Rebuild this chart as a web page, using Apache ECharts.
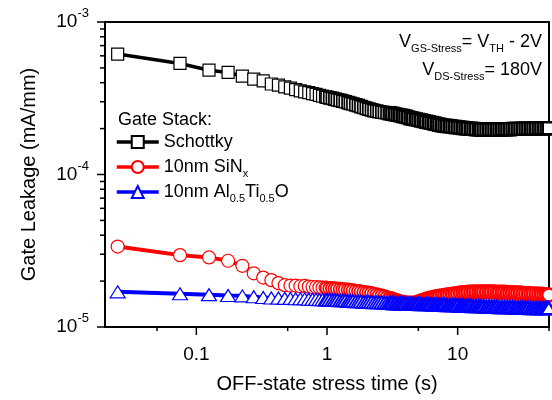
<!DOCTYPE html>
<html>
<head>
<meta charset="utf-8">
<script src="https://cdn.jsdelivr.net/npm/echarts@6/dist/echarts.min.js"></script>
<style>html,body{margin:0;padding:0;background:#fff}#chart{width:552px;height:400px}</style>
</head>
<body>
<div id="chart"></div>
<script>
// stress time (s), shared by all three curves
const times = [
  0.025, 0.075, 0.125, 0.175, 0.225, 0.275, 0.325, 0.375, 0.425, 0.475,
  0.525, 0.575, 0.625, 0.675, 0.725, 0.775, 0.825, 0.875, 0.925, 0.975,
  1.0, 1.05, 1.1, 1.15, 1.2, 1.26, 1.32, 1.38, 1.45, 1.51,
  1.58, 1.66, 1.74, 1.82, 1.91, 2.0, 2.09, 2.19, 2.29, 2.4,
  2.51, 2.63, 2.75, 2.88, 3.02, 3.16, 3.31, 3.47, 3.63, 3.8,
  3.98, 4.17, 4.37, 4.57, 4.79, 5.01, 5.25, 5.5, 5.75, 6.03,
  6.31, 6.61, 6.92, 7.24, 7.59, 7.94, 8.32, 8.71, 9.12, 9.55,
  10, 10.5, 11, 11.5, 12, 12.6, 13.2, 13.8, 14.5, 15.1,
  15.8, 16.6, 17.4, 18.2, 19.1, 20, 20.9, 21.9, 22.9, 24,
  25.1, 26.3, 27.5, 28.8, 30.2, 31.6, 33.1, 34.7, 36.3, 38,
  39.8, 41.7, 43.7, 45.7, 47.9, 49.8
]

// gate leakage (mA/mm)
const schottky = [
  6.16e-4, 5.35e-4, 4.83e-4, 4.67e-4, 4.41e-4, 4.22e-4, 4.11e-4, 3.92e-4, 3.85e-4, 3.75e-4,
  3.68e-4, 3.60e-4, 3.53e-4, 3.48e-4, 3.44e-4, 3.39e-4, 3.35e-4, 3.30e-4, 3.27e-4, 3.23e-4,
  3.21e-4, 3.18e-4, 3.16e-4, 3.12e-4, 3.09e-4, 3.06e-4, 3.03e-4, 3.00e-4, 2.96e-4, 2.93e-4,
  2.90e-4, 2.86e-4, 2.83e-4, 2.79e-4, 2.75e-4, 2.71e-4, 2.68e-4, 2.65e-4, 2.62e-4, 2.60e-4,
  2.58e-4, 2.56e-4, 2.55e-4, 2.53e-4, 2.52e-4, 2.50e-4, 2.48e-4, 2.46e-4, 2.44e-4, 2.42e-4,
  2.40e-4, 2.37e-4, 2.34e-4, 2.32e-4, 2.30e-4, 2.28e-4, 2.26e-4, 2.24e-4, 2.22e-4, 2.20e-4,
  2.18e-4, 2.16e-4, 2.14e-4, 2.12e-4, 2.10e-4, 2.09e-4, 2.08e-4, 2.07e-4, 2.06e-4, 2.05e-4,
  2.04e-4, 2.03e-4, 2.02e-4, 2.01e-4, 2.00e-4, 2.00e-4, 1.99e-4, 1.98e-4, 1.98e-4, 1.97e-4,
  1.97e-4, 1.97e-4, 1.97e-4, 1.97e-4, 1.97e-4, 1.97e-4, 1.97e-4, 1.98e-4, 1.98e-4, 1.98e-4,
  1.98e-4, 1.99e-4, 1.99e-4, 1.99e-4, 1.99e-4, 2.00e-4, 2.00e-4, 2.00e-4, 2.00e-4, 2.00e-4,
  2.01e-4, 2.01e-4, 2.01e-4, 2.01e-4, 2.01e-4, 2.01e-4
]

const sinx = [
  3.37e-5, 2.96e-5, 2.86e-5, 2.72e-5, 2.52e-5, 2.25e-5, 2.11e-5, 2.03e-5, 1.94e-5, 1.88e-5,
  1.87e-5, 1.87e-5, 1.85e-5, 1.86e-5, 1.84e-5, 1.83e-5, 1.83e-5, 1.82e-5, 1.81e-5, 1.81e-5,
  1.80e-5, 1.79e-5, 1.79e-5, 1.78e-5, 1.78e-5, 1.77e-5, 1.76e-5, 1.76e-5, 1.75e-5, 1.74e-5,
  1.73e-5, 1.72e-5, 1.71e-5, 1.70e-5, 1.69e-5, 1.68e-5, 1.67e-5, 1.66e-5, 1.64e-5, 1.63e-5,
  1.61e-5, 1.60e-5, 1.58e-5, 1.56e-5, 1.54e-5, 1.52e-5, 1.50e-5, 1.48e-5, 1.46e-5, 1.45e-5,
  1.44e-5, 1.43e-5, 1.43e-5, 1.43e-5, 1.44e-5, 1.46e-5, 1.48e-5, 1.50e-5, 1.52e-5, 1.54e-5,
  1.55e-5, 1.57e-5, 1.58e-5, 1.59e-5, 1.60e-5, 1.61e-5, 1.62e-5, 1.63e-5, 1.64e-5, 1.65e-5,
  1.66e-5, 1.67e-5, 1.68e-5, 1.68e-5, 1.69e-5, 1.69e-5, 1.70e-5, 1.70e-5, 1.70e-5, 1.70e-5,
  1.70e-5, 1.70e-5, 1.70e-5, 1.70e-5, 1.70e-5, 1.69e-5, 1.69e-5, 1.69e-5, 1.69e-5, 1.68e-5,
  1.68e-5, 1.68e-5, 1.67e-5, 1.67e-5, 1.67e-5, 1.66e-5, 1.66e-5, 1.66e-5, 1.65e-5, 1.65e-5,
  1.65e-5, 1.64e-5, 1.64e-5, 1.63e-5, 1.63e-5, 1.62e-5
]

const altio = [
  1.70e-5, 1.65e-5, 1.63e-5, 1.61e-5, 1.60e-5, 1.58e-5, 1.56e-5, 1.55e-5, 1.55e-5, 1.54e-5,
  1.54e-5, 1.53e-5, 1.53e-5, 1.53e-5, 1.52e-5, 1.52e-5, 1.52e-5, 1.51e-5, 1.51e-5, 1.51e-5,
  1.51e-5, 1.51e-5, 1.50e-5, 1.50e-5, 1.50e-5, 1.49e-5, 1.49e-5, 1.49e-5, 1.48e-5, 1.48e-5,
  1.48e-5, 1.47e-5, 1.47e-5, 1.47e-5, 1.46e-5, 1.46e-5, 1.46e-5, 1.46e-5, 1.45e-5, 1.45e-5,
  1.45e-5, 1.45e-5, 1.44e-5, 1.44e-5, 1.44e-5, 1.44e-5, 1.43e-5, 1.43e-5, 1.43e-5, 1.43e-5,
  1.43e-5, 1.42e-5, 1.42e-5, 1.42e-5, 1.42e-5, 1.42e-5, 1.41e-5, 1.41e-5, 1.41e-5, 1.41e-5,
  1.41e-5, 1.40e-5, 1.40e-5, 1.40e-5, 1.40e-5, 1.40e-5, 1.39e-5, 1.39e-5, 1.39e-5, 1.39e-5,
  1.39e-5, 1.38e-5, 1.38e-5, 1.38e-5, 1.38e-5, 1.38e-5, 1.37e-5, 1.37e-5, 1.37e-5, 1.37e-5,
  1.37e-5, 1.36e-5, 1.36e-5, 1.36e-5, 1.36e-5, 1.36e-5, 1.35e-5, 1.35e-5, 1.35e-5, 1.35e-5,
  1.35e-5, 1.35e-5, 1.34e-5, 1.34e-5, 1.34e-5, 1.34e-5, 1.34e-5, 1.34e-5, 1.33e-5, 1.33e-5,
  1.33e-5, 1.33e-5, 1.33e-5, 1.33e-5, 1.33e-5, 1.33e-5
]

const seriesNames = ['Schottky', '10nm SiNx', '10nm Al0.5Ti0.5O']
const legendLabels = ['Schottky', '10nm SiN{sub|x}', '10nm Al{sub|0.5}Ti{sub|0.5}O']

// axis ticks
const xMajorTicks = [0.1, 1, 10]
const xMinorTicks = [0.05, 0.5, 5, 50]
const yMajorTicks = [1e-5, 1e-4, 1e-3]
const yMinorTicks = [2e-5, 3e-5, 4e-5, 5e-5, 6e-5, 7e-5, 8e-5, 9e-5,
  2e-4, 3e-4, 4e-4, 5e-4, 6e-4, 7e-4, 8e-4, 9e-4]

const X_MIN = 0.02, X_MAX = 50, Y_MIN = 1e-5, Y_MAX = 1e-3
const FONT = 'Liberation Sans, Arial, sans-serif'

const chart = echarts.init(document.getElementById('chart'))

// markers pile up on the right, so their outlines get heavier there (like the original plot)
function pairs(ys) {
  return times.map((t, i) => ({
    value: [t, ys[i]],
    itemStyle: { borderWidth: t < 1 ? 1.2 : t < 3 ? 1.7 : 2.4 }
  }))
}

function tickSeries(values, axis, len) {
  return {
    type: 'custom',
    silent: true,
    clip: false,
    z: 5,
    data: values.map(v => axis === 'x' ? [v, Y_MIN] : [X_MIN, v]),
    renderItem: function (params, api) {
      const p = api.coord([api.value(0), api.value(1)])
      const q = axis === 'x' ? [p[0], p[1] + len] : [p[0] - len, p[1]]
      return {
        type: 'line',
        shape: { x1: p[0], y1: p[1], x2: q[0], y2: q[1] },
        style: { stroke: '#000', lineWidth: 1.5 }
      }
    }
  }
}

function lineSeries(name, ys, color, symbol, size, width) {
  return {
    name: name,
    type: 'line',
    data: pairs(ys),
    symbol: symbol,
    symbolSize: size,
    showAllSymbol: true,
    lineStyle: { color: color, width: width },
    itemStyle: { color: '#fff', borderColor: color, borderWidth: 1.2 },
    emphasis: { disabled: true }
  }
}

const subStyle = { fontFamily: FONT, fontSize: 11, lineHeight: 10, verticalAlign: 'bottom', color: '#000' }

let option = {
  animation: false,
  grid: { left: 105, right: 3, top: 22, bottom: 73, show: true, borderColor: '#000', borderWidth: 2, outerBoundsMode: 'none' },
  title: {
    text: 'Gate Stack:',
    left: 118, top: 111, padding: 0,
    textStyle: { fontFamily: FONT, fontSize: 18, fontWeight: 'normal', color: '#000' }
  },
  legend: {
    data: seriesNames,
    orient: 'vertical',
    left: 115, top: 130,
    padding: 0,
    itemGap: 1,
    itemWidth: 42,
    itemHeight: 15,
    lineStyle: { width: 3.5 },
    formatter: name => legendLabels[seriesNames.indexOf(name)],
    textStyle: {
      fontFamily: FONT, fontSize: 18, lineHeight: 24, color: '#000',
      rich: { sub: subStyle }
    }
  },
  xAxis: {
    type: 'log',
    logBase: 10,
    min: X_MIN,
    max: X_MAX,
    name: 'OFF-state stress time (s)',
    nameLocation: 'middle',
    nameGap: 47,
    nameTextStyle: { fontFamily: FONT, fontSize: 20, color: '#000' },
    axisLine: { lineStyle: { color: '#000', width: 2 } },
    axisTick: { show: false },
    splitLine: { show: false },
    axisLabel: {
      showMinLabel: false, showMaxLabel: false,
      margin: 18,
      fontFamily: FONT, fontSize: 19, color: '#000'
    }
  },
  yAxis: {
    type: 'log',
    logBase: 10,
    min: Y_MIN,
    max: Y_MAX,
    name: 'Gate Leakage (mA/mm)',
    nameLocation: 'middle',
    nameGap: 66,
    nameTextStyle: { fontFamily: FONT, fontSize: 20, color: '#000' },
    axisLine: { lineStyle: { color: '#000', width: 2 } },
    axisTick: { show: false },
    splitLine: { show: false },
    axisLabel: {
      margin: 16,
      formatter: v => '{b|10}{sup|' + Math.round(Math.log10(v)) + '}',
      rich: {
        b: { fontFamily: FONT, fontSize: 19, lineHeight: 30, color: '#000' },
        sup: { fontFamily: FONT, fontSize: 13, lineHeight: 12, verticalAlign: 'top', color: '#000' }
      }
    }
  },
  graphic: [
    {
      type: 'text', right: 10, top: 33,
      style: {
        text: '{m|V}{s|GS-Stress}{m|= V}{s|TH}{m| - 2V}',
        rich: { m: { fontFamily: FONT, fontSize: 18, lineHeight: 24, fill: '#000' }, s: Object.assign({}, subStyle, { fill: '#000' }) }
      }
    },
    {
      type: 'text', right: 10, top: 61,
      style: {
        text: '{m|V}{s|DS-Stress}{m|= 180V}',
        rich: { m: { fontFamily: FONT, fontSize: 18, lineHeight: 24, fill: '#000' }, s: Object.assign({}, subStyle, { fill: '#000' }) }
      }
    }
  ],
  series: [
    lineSeries(seriesNames[0], schottky, '#000', 'rect', 12, 3.5),
    lineSeries(seriesNames[1], sinx, '#ff0000', 'circle', 13, 4),
    lineSeries(seriesNames[2], altio, '#0000ff', 'triangle', [15, 12], 4),
    tickSeries(xMajorTicks, 'x', 8),
    tickSeries(xMinorTicks, 'x', 4),
    tickSeries(yMajorTicks, 'y', 8),
    tickSeries(yMinorTicks, 'y', 5)
  ]
}

chart.setOption(option)
</script>
</body>
</html>
